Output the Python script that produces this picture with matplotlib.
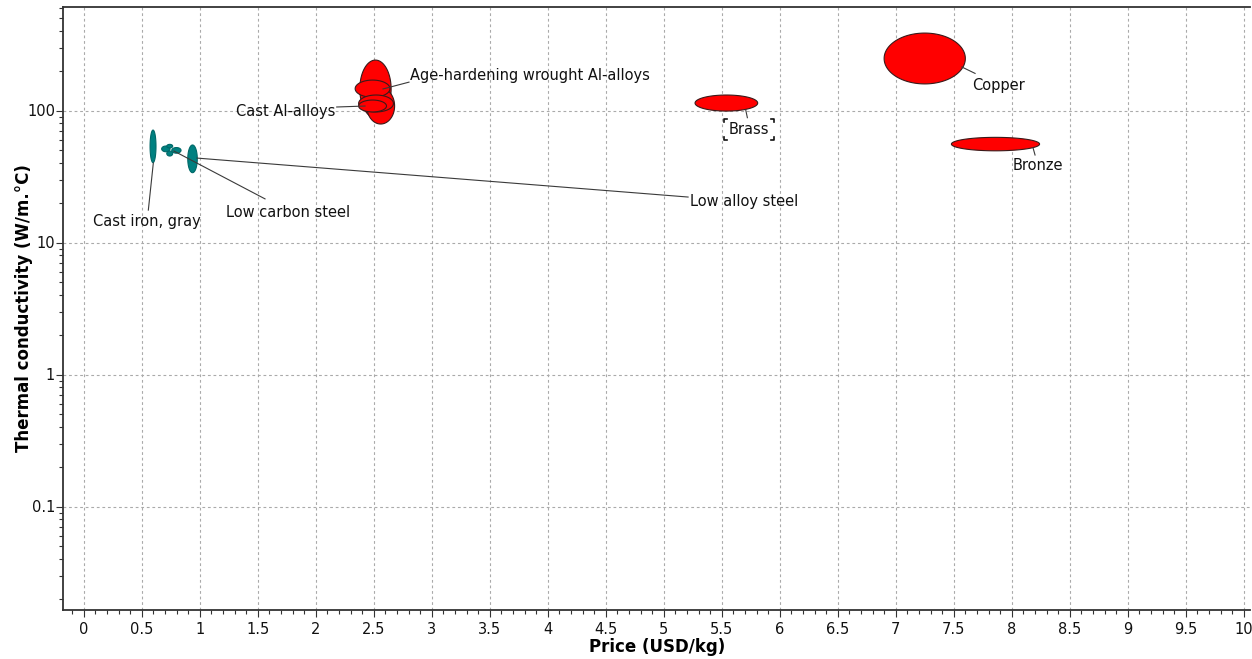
import numpy as np
import matplotlib
matplotlib.use("Agg")
import matplotlib.pyplot as plt
from matplotlib.lines import Line2D
from matplotlib.transforms import IdentityTransform
from matplotlib.ticker import FixedLocator, LogLocator, NullFormatter

# ---------------- data ----------------
# one entry per drawn bubble (a material may have several bubbles)
bubble_material = ["Age-hardening wrought Al-alloys", "Age-hardening wrought Al-alloys",
                   "Age-hardening wrought Al-alloys", "Cast Al-alloys", "Cast Al-alloys",
                   "Copper", "Brass", "Bronze",
                   "Cast iron, gray", "Low carbon steel", "Low carbon steel",
                   "Low carbon steel", "Low carbon steel", "Low alloy steel"]
bubble_family = ["non-ferrous"] * 8 + ["ferrous"] * 6
price_min = [2.38, 2.44, 2.34, 2.37, 2.37, 6.90, 5.27, 7.48, 0.572, 0.672, 0.716, 0.759, 0.716, 0.897]
price_max = [2.65, 2.68, 2.64, 2.67, 2.61, 7.60, 5.81, 8.24, 0.623, 0.744, 0.767, 0.839, 0.767, 0.979]
cond_min = [88.0, 79.0, 126.0, 97.5, 97.5, 159.0, 99.0, 49.5, 40.3, 48.7, 52.0, 47.5, 45.2, 33.8]
cond_max = [241.0, 148.0, 170.0, 131.0, 120.0, 386.0, 131.0, 62.6, 71.1, 53.8, 55.4, 52.4, 49.3, 54.8]

x_ticks = [0, 0.5, 1, 1.5, 2, 2.5, 3, 3.5, 4, 4.5, 5, 5.5, 6, 6.5, 7, 7.5, 8, 8.5, 9, 9.5, 10]
y_ticks = [0.1, 1, 10, 100]
y_tick_labels = ["0.1", "1", "10", "100"]

# labels: text, leader line (price, conductivity), text position, alignment
label_text = ["Age-hardening wrought Al-alloys", "Cast Al-alloys", "Copper", "Brass",
              "Bronze", "Low alloy steel", "Low carbon steel", "Cast iron, gray"]
label_anchor_x = [2.58, 2.425, 7.57, 5.707, 8.184, 0.977, 0.778, 0.600]
label_anchor_y = [145.6, 108.1, 213.6, 100.9, 52.0, 43.6, 49.3, 40.0]
label_end_x = [2.804, 2.181, 7.684, 5.721, 8.201, 5.210, 1.563, 0.557]
label_end_y = [164.0, 106.3, 191.0, 88.2, 46.0, 22.1, 21.4, 17.6]
label_x = [2.814, 2.169, 7.658, 5.736, 8.011, 5.227, 1.227, 0.546]
label_y = [185.7, 99.0, 156.0, 72.4, 38.0, 20.3, 17.0, 14.3]
label_ha = ["left", "right", "left", "center", "left", "left", "left", "center"]

family_color = {"non-ferrous": "#ff0000", "ferrous": "#008080"}
family_edge = {"non-ferrous": "#3a1a1a", "ferrous": "#006868"}

# ---------------- figure ----------------
W, H = 1252, 659
fig = plt.figure(figsize=(W / 100, H / 100), dpi=100)
ax = fig.add_axes([63.3 / W, (H - 610) / H, (1250 - 63.3) / W, (610 - 7) / H])
ax.set_yscale("log")
ax.set_xlim(-0.176, 10.054)
ax.set_ylim(10 ** (2 - (610 - 110.5) / 132), 10 ** (2 + (110.5 - 7) / 132))

t = np.linspace(0, 2 * np.pi, 300)
for i in range(len(bubble_material)):
    cx = (price_min[i] + price_max[i]) / 2
    rx = (price_max[i] - price_min[i]) / 2
    l0, l1 = np.log10(cond_min[i]), np.log10(cond_max[i])
    cl, rl = (l0 + l1) / 2, (l1 - l0) / 2
    xs = cx + rx * np.cos(t)
    ys = 10 ** (cl + rl * np.sin(t))
    fam = bubble_family[i]
    ax.fill(xs, ys, facecolor=family_color[fam], edgecolor=family_edge[fam],
            lw=0.8, zorder=3)

texts = []
for i in range(len(label_text)):
    ax.plot([label_anchor_x[i], label_end_x[i]], [label_anchor_y[i], label_end_y[i]],
            color="#3a3a3a", lw=0.8, zorder=4)
    tx = ax.text(label_x[i], label_y[i], label_text[i], ha=label_ha[i], va="center",
                 fontsize=10.5, color="#111111", zorder=5)
    texts.append(tx)

# grid, ticks, spines
ax.xaxis.set_major_locator(FixedLocator(x_ticks))
ax.xaxis.set_minor_locator(FixedLocator(np.arange(-0.1, 10.06, 0.1)))
ax.set_xticklabels([("%g" % v) for v in x_ticks])
ax.yaxis.set_major_locator(FixedLocator(y_ticks))
ax.yaxis.set_minor_locator(LogLocator(base=10, subs=np.arange(2, 10), numticks=20))
ax.yaxis.set_minor_formatter(NullFormatter())
ax.set_yticklabels(y_tick_labels)
ax.grid(True, which="major", ls=(0, (2.5, 2.5)), color="#aaaaaa", lw=0.8, zorder=0)
ax.tick_params(which="major", length=5, width=0.8, color="#333333", labelsize=10.5,
               labelcolor="#111111")
ax.tick_params(axis="y", which="major", pad=1)
ax.tick_params(axis="x", which="major", pad=4)
ax.tick_params(which="minor", length=3, width=0.8, color="#333333")
ax.spines["right"].set_visible(False)
for s in ["left", "bottom", "top"]:
    ax.spines[s].set_color("#333333")
    ax.spines[s].set_linewidth(1.3)

ax.set_xlabel("Price (USD/kg)", fontsize=12, fontweight="bold", labelpad=0.5)
ax.set_ylabel("Thermal conductivity (W/m.°C)", fontsize=12, fontweight="bold")
ax.yaxis.set_label_coords((33 - 63.3) / (1250 - 63.3), 0.5)

# selection brackets around "Brass"
fig.canvas.draw()
bb = texts[3].get_window_extent()
x0, x1 = bb.x0 - 5, bb.x1 + 5
y0, y1 = bb.y0 - 3, bb.y1 + 3
c = 3
for (px, py, dx, dy) in [(x0, y0, 1, 1), (x1, y0, -1, 1), (x0, y1, 1, -1), (x1, y1, -1, -1)]:
    fig.add_artist(Line2D([px + dx * c, px, px], [py, py, py + dy * c],
                          transform=IdentityTransform(), color="#111111", lw=1.2))

fig.savefig("out.png", dpi=100)
